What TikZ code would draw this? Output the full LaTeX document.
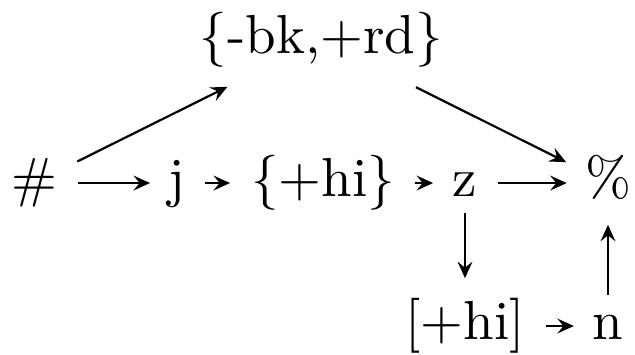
\documentclass[tikz,border=0pt]{standalone}
\usetikzlibrary{arrows.meta}
\begin{document}
\begin{tikzpicture}[x=0.181818pt, y=-0.181818pt,
  lbl/.style={inner sep=0pt, text height=7.5pt, text depth=2.5pt},
  arr/.style={line width=0.4pt, -{Stealth[length=3pt, width=2.7pt, inset=1.1pt]}}]
\useasboundingbox (0,0) rectangle (635,354);
\node[lbl] (hash) at (34,183) {\#};
\node[lbl] (j) at (177,183) {j};
\node[lbl] (hi) at (323,183) {\{+hi\}};
\node[lbl] (z) at (465,183) {z};
\node[lbl] (pc) at (608,183) {\%};
\node[lbl] (top) at (321.5,40) {\{-bk,+rd\}};
\node[lbl] (bhi) at (465,326) {[+hi]};
\node[lbl] (n) at (608,326) {n};
\draw[arr, shorten <=8.0pt, shorten >=4.9pt] (hash.center) -- (j.center);
\draw[arr, shorten <=5.1pt, shorten >=16.9pt] (j.center) -- (hi.center);
\draw[arr, shorten <=16.7pt, shorten >=5.8pt] (hi.center) -- (z.center);
\draw[arr, shorten <=6.0pt, shorten >=7.5pt] (z.center) -- (pc.center);
\draw[arr, shorten <=8.8pt, shorten >=19.1pt] (hash.center) -- (top.center);
\draw[arr, shorten <=19.2pt, shorten >=8.5pt] (top.center) -- (pc.center);
\draw[arr, shorten <=5.5pt, shorten >=8.7pt] (z.center) -- (bhi.center);
\draw[arr, shorten <=14.7pt, shorten >=6.2pt] (bhi.center) -- (n.center);
\draw[arr, shorten <=5.6pt, shorten >=7.6pt] (n.center) -- (pc.center);
\end{tikzpicture}
\end{document}
